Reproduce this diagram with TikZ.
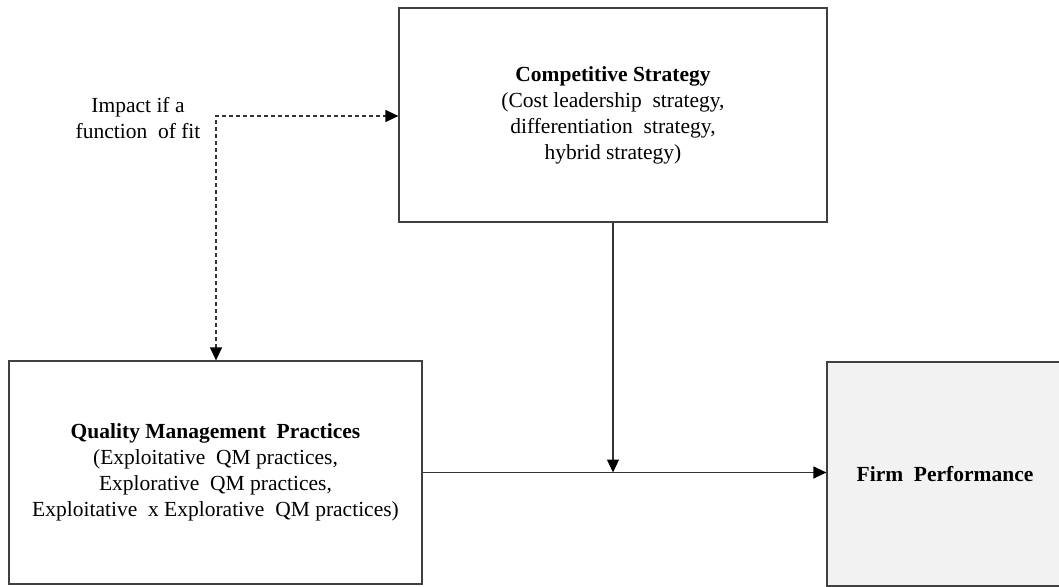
\documentclass[tikz,border=0pt]{standalone}
\usepackage{fontspec}
\setmainfont{Liberation Serif}
\usetikzlibrary{positioning,arrows.meta}

\begin{document}
\begin{tikzpicture}[x=1pt, y=1pt, >={Triangle[width=12pt,length=13pt,color=black]},
  box/.style={draw=black!75, line width=1.2pt, inner sep=0pt, align=center,
    font=\fontsize{21.5}{26}\selectfont},
  link/.style={line width=1.2pt, draw=black!80},
  every node/.style={font=\fontsize{21.5}{26}\selectfont}]
\useasboundingbox (0,0) rectangle (1059,-586);
\draw (613.0pt, -115.0pt)node[box, minimum width=428pt, minimum height=214pt](cs){\textbf{Competitive Strategy}\\(Cost leadership\ \ strategy,\\differentiation\ \ strategy,\\hybrid strategy)};
\draw (215.5pt, -472.5pt)node[box, minimum width=413pt, minimum height=223pt](qm){\textbf{Quality Management\ \ Practices}\\(Exploitative\ \ QM practices,\\Explorative\ \ QM practices,\\Exploitative\ \ x Explorative\ \ QM practices)};
\draw (945.0pt, -474.0pt)node[box, fill=black!5, minimum width=236pt, minimum height=224pt](fp){\textbf{Firm\ \ Performance}};
\draw (138.0pt, -118.0pt)node[align=center](fit){Impact if a\\function\ \ of fit};
\coordinate (bend) at (216pt, -116pt);
\draw[link, dashed, dash pattern=on 4pt off 3pt, <->] (qm.north -| bend) -- (bend) -- (bend -| cs.west);
\draw[link, ->] (cs.south) -- (cs.south |- qm.east);
\draw[link, ->] (qm.east) -- (qm.east -| fp.west);
\end{tikzpicture}
\end{document}
